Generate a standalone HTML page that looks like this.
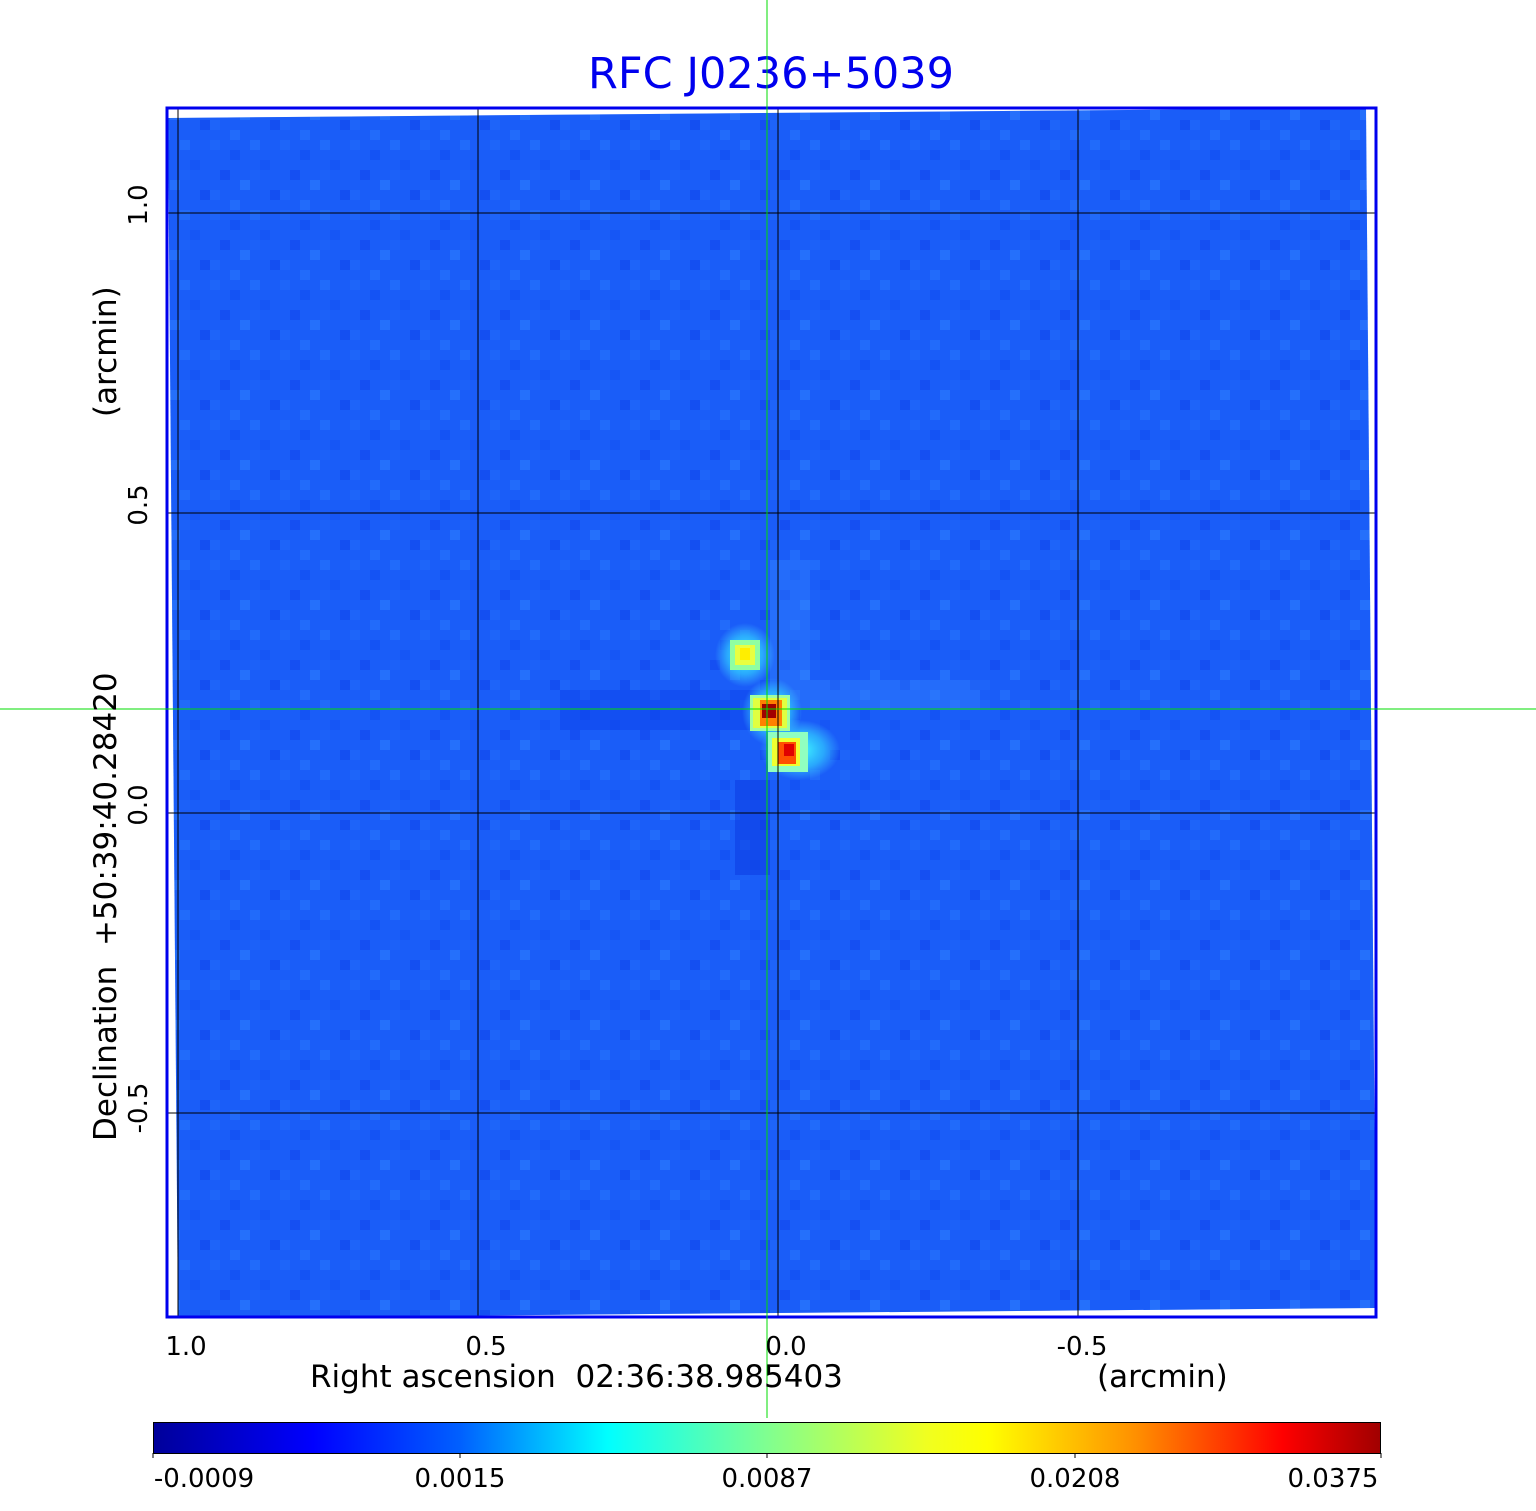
<!DOCTYPE html>
<html><head><meta charset="utf-8"><style>
html,body{margin:0;padding:0;background:#fff;}
svg{display:block;}
text{font-family:"DejaVu Sans","Liberation Sans",sans-serif;white-space:pre;}
</style></head><body>
<svg width="1536" height="1511" viewBox="0 0 1536 1511">
<defs>
<linearGradient id="jet" x1="0" x2="1" y1="0" y2="0">
<stop offset="0" stop-color="#00009a"/>
<stop offset="0.13" stop-color="#0000ff"/>
<stop offset="0.25" stop-color="#0060ff"/>
<stop offset="0.37" stop-color="#00ffff"/>
<stop offset="0.5" stop-color="#80ff90"/>
<stop offset="0.63" stop-color="#f0ff20"/>
<stop offset="0.68" stop-color="#ffff00"/>
<stop offset="0.8" stop-color="#ff9000"/>
<stop offset="0.92" stop-color="#ff0000"/>
<stop offset="1" stop-color="#a00000"/>
</linearGradient>
<radialGradient id="halo" cx="0.5" cy="0.5" r="0.5">
<stop offset="0" stop-color="#40ffff" stop-opacity="1"/>
<stop offset="0.6" stop-color="#30c8ff" stop-opacity="0.7"/>
<stop offset="1" stop-color="#40c0ff" stop-opacity="0"/>
</radialGradient>
<pattern id="noise" width="70" height="70" patternUnits="userSpaceOnUse">
<rect width="70" height="70" fill="#1a5cf8"/>
<rect x="0" y="0" width="10" height="10" fill="#2068fa"/>
<rect x="20" y="10" width="10" height="10" fill="#124ef2"/>
<rect x="40" y="0" width="10" height="10" fill="#2470fb"/>
<rect x="10" y="30" width="10" height="10" fill="#1448f0"/>
<rect x="30" y="40" width="10" height="10" fill="#2a78fc"/>
<rect x="50" y="20" width="10" height="10" fill="#1552f4"/>
<rect x="0" y="50" width="10" height="10" fill="#2066f9"/>
<rect x="40" y="30" width="10" height="10" fill="#1e62f8"/>
<rect x="60" y="50" width="10" height="10" fill="#1248ee"/>
<rect x="20" y="60" width="10" height="10" fill="#2670fb"/>
</pattern>
</defs>
<text x="771" y="88" font-size="43" fill="#0000ee" text-anchor="middle">RFC J0236+5039</text>
<polygon points="168,118 1366,108 1376,1308 178,1318" fill="url(#noise)"/>
<polygon points="168,118 1366,108 1376,1308 178,1318" fill="#1c60f8" opacity="0.3"/>
<rect x="560" y="690" width="200" height="40" fill="#0a3ce8" opacity="0.4"/>
<rect x="735" y="780" width="35" height="95" fill="#0a38e0" opacity="0.5"/>
<rect x="780" y="680" width="200" height="30" fill="#3a90ff" opacity="0.3"/>
<rect x="770" y="560" width="40" height="120" fill="#3a90ff" opacity="0.3"/>
<ellipse cx="745" cy="655" rx="30" ry="32" fill="url(#halo)"/>
<ellipse cx="772" cy="712" rx="30" ry="34" fill="url(#halo)"/>
<ellipse cx="800" cy="750" rx="40" ry="30" fill="url(#halo)"/>
<rect x="730" y="640" width="30" height="30" fill="#90ffa0"/>
<rect x="735" y="645" width="20" height="20" fill="#e8ff40"/>
<rect x="740" y="648" width="10" height="12" fill="#ffee00"/>
<rect x="750" y="695" width="40" height="36" fill="#a0ffa0"/>
<rect x="753" y="698" width="34" height="30" fill="#e0ff40"/>
<rect x="760" y="700" width="22" height="26" fill="#ff8000"/>
<rect x="762" y="704" width="14" height="14" fill="#a00000"/>
<rect x="768" y="732" width="40" height="40" fill="#90ffc0"/>
<rect x="772" y="738" width="28" height="28" fill="#f0ff30"/>
<rect x="778" y="742" width="18" height="22" fill="#ff5000"/>
<rect x="784" y="744" width="10" height="12" fill="#e00000"/>
<g stroke="#000" stroke-width="1">
<line x1="178" y1="107" x2="178" y2="1318"/>
<line x1="478" y1="107" x2="478" y2="1318"/>
<line x1="778" y1="107" x2="778" y2="1318"/>
<line x1="1078" y1="107" x2="1078" y2="1318"/>
<line x1="166" y1="213" x2="1377" y2="213"/>
<line x1="166" y1="513" x2="1377" y2="513"/>
<line x1="166" y1="813" x2="1377" y2="813"/>
<line x1="166" y1="1113" x2="1377" y2="1113"/>
</g>
<rect x="167" y="108" width="1209" height="1209" fill="none" stroke="#0000ee" stroke-width="3"/>
<line x1="767" y1="0" x2="767" y2="1418" stroke="#00dd00" stroke-width="1"/>
<line x1="0" y1="709" x2="1536" y2="709" stroke="#00dd00" stroke-width="1"/>
<g font-size="26" fill="#000">
<text x="186" y="1355" text-anchor="middle">1.0</text>
<text x="486" y="1355" text-anchor="middle">0.5</text>
<text x="786" y="1355" text-anchor="middle">0.0</text>
<text x="1082" y="1355" text-anchor="middle">-0.5</text>
<text transform="translate(147,205) rotate(-90)" text-anchor="middle">1.0</text>
<text transform="translate(147,505) rotate(-90)" text-anchor="middle">0.5</text>
<text transform="translate(147,805) rotate(-90)" text-anchor="middle">0.0</text>
<text transform="translate(147,1108) rotate(-90)" text-anchor="middle">-0.5</text>
</g>
<g font-size="31" fill="#000">
<text x="310" y="1387">Right ascension&#160;&#160;02:36:38.985403</text>
<text x="1097" y="1387">(arcmin)</text>
<text transform="translate(116,1141) rotate(-90)">Declination&#160;&#160;+50:39:40.28420</text>
<text transform="translate(116,417) rotate(-90)">(arcmin)</text>
</g>
<rect x="153.5" y="1422.5" width="1227" height="31" fill="url(#jet)" stroke="#000" stroke-width="1"/>
<g stroke="#000"><line x1="153" y1="1453" x2="153" y2="1458"/><line x1="460" y1="1453" x2="460" y2="1458"/><line x1="767" y1="1453" x2="767" y2="1458"/><line x1="1075" y1="1453" x2="1075" y2="1458"/><line x1="1381" y1="1453" x2="1381" y2="1458"/></g>
<g font-size="26" fill="#000" text-anchor="middle">
<text x="204" y="1487">-0.0009</text>
<text x="460" y="1487">0.0015</text>
<text x="767" y="1487">0.0087</text>
<text x="1075" y="1487">0.0208</text>
<text x="1333" y="1487">0.0375</text>
</g>
</svg>
</body></html>
